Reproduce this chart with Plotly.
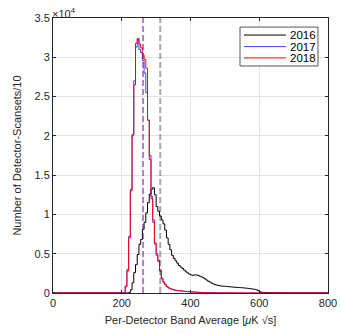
import numpy as np
import plotly.graph_objects as go

# histogram bins (5 uK rt s wide), left edges 200..695
bin_edges = list(range(200, 705, 5))

counts_2016 = [
    0, 0, 0, 0, 50, 400, 1300, 2600, 3600, 4900,
    6200, 6800, 8100, 9000, 10200, 11500, 12600, 13200, 13400, 12500,
    11000, 10400, 9800, 9300, 8800, 8000, 7000, 6200, 5500, 4800,
    4400, 4100, 3800, 3500, 3300, 3100, 2900, 2700, 2550, 2400,
    2300, 2250, 2300, 2300, 2250, 2150, 2050, 1950, 1800, 1650,
    1500, 1380, 1250, 1150, 1050, 1000, 950, 900, 880, 860,
    840, 820, 800, 780, 760, 740, 720, 700, 690, 680,
    660, 640, 620, 590, 560, 530, 500, 460, 400, 300,
    150, 100, 70, 55, 45, 38, 32, 27, 22, 18,
    15, 12, 10, 8, 7, 6, 5, 4, 3, 2,
]
counts_2017 = [
    0, 0, 900, 3000, 7200, 13200, 20200, 27000, 31300, 32400,
    31000, 30600, 29600, 28000, 25500, 22000, 17000, 12300, 9000, 6200,
    4800, 4000, 2800, 1800, 1300, 1000, 780, 640, 540, 450,
    400, 350, 320, 290, 260, 240, 220, 200, 180, 160,
    140, 125, 110, 100, 90, 80, 70, 60, 55, 50,
    45, 40, 35, 32, 30, 28, 25, 22, 20, 18,
    16, 14, 12, 10, 9, 8, 7, 6, 5, 5,
    4, 4, 3, 3, 3, 2, 2, 2, 2, 1,
    1, 1, 1, 1, 1, 0, 0, 0, 0, 0,
    0, 0, 0, 0, 0, 0, 0, 0, 0, 0,
]
counts_2018 = [
    0, 0, 800, 2800, 7000, 13000, 20000, 26500, 31800, 32300,
    31700, 31200, 30300, 29700, 28600, 22000, 17500, 12000, 9300, 6400,
    5000, 4200, 2900, 1900, 1400, 1100, 800, 650, 550, 450,
    400, 350, 320, 290, 260, 240, 220, 200, 180, 160,
    140, 125, 110, 100, 90, 80, 70, 60, 55, 50,
    45, 40, 35, 32, 30, 28, 25, 22, 20, 18,
    16, 14, 12, 10, 9, 8, 7, 6, 5, 5,
    4, 4, 3, 3, 3, 2, 2, 2, 2, 1,
    1, 1, 1, 1, 1, 0, 0, 0, 0, 0,
    0, 0, 0, 0, 0, 0, 0, 0, 0, 0,
]
mean_2016 = 312
mean_2017 = 262
mean_2018 = 262

years = ["2016", "2017", "2018"]
x_ticks = [0, 200, 400, 600, 800]
y_ticks = [0, 5000, 10000, 15000, 20000, 25000, 30000, 35000]
y_ticktext = ["0", "0.5", "1", "1.5", "2", "2.5", "3", "3.5"]

FONT = "Liberation Sans, Arial, sans-serif"
INK = "#262626"
colors = ["#000000", "rgba(0,0,255,0.75)", "#ff0000"]


def step_xy(counts):
    # pad with zero baseline from 0 and out to 800
    x = [0] + bin_edges + [800]
    y = [0] + counts + [0, 0]
    return x, y


fig = go.Figure()
for name, col, c in zip(years, colors, [counts_2016, counts_2017, counts_2018]):
    x, y = step_xy(c)
    fig.add_trace(go.Scatter(x=x, y=y, mode="lines", name=name, showlegend=False,
                             line=dict(color=col, width=1, shape="hv")))

# mean markers (red first so blue on top gives the lavender)
for m, col in [(mean_2016, "rgba(0,0,0,0.35)"), (mean_2018, "rgba(255,0,0,0.3)"), (mean_2017, "rgba(0,0,255,0.3)")]:
    fig.add_trace(go.Scatter(x=[m, m], y=[0, 35000], mode="lines", showlegend=False,
                             line=dict(color=col, width=2, dash="6px,3px")))

fig.update_xaxes(range=[0, 800], tickvals=x_ticks, ticks="inside", ticklen=3, tickcolor=INK,
                 showline=True, linecolor=INK, linewidth=1, mirror="allticks", automargin=False,
                 showgrid=True, gridcolor="#e3e3e3", zeroline=False,
                 tickfont=dict(size=11, color=INK, family=FONT),
                 title=dict(text="Per-Detector Band Average [<i>μ</i>K √s]", font=dict(size=11, color=INK, family=FONT), standoff=8))
fig.update_yaxes(range=[0, 35000], tickvals=y_ticks, ticktext=y_ticktext, ticks="inside", ticklen=3, tickcolor=INK,
                 showline=True, linecolor=INK, linewidth=1, mirror="allticks", automargin=False,
                 showgrid=True, gridcolor="#e3e3e3", zeroline=False,
                 tickfont=dict(size=11, color=INK, family=FONT),
                 title=dict(text="Number of Detector-Scansets/10", font=dict(size=11, color=INK, family=FONT), standoff=10))

fig.add_annotation(text="×10<sup>4</sup>", xref="paper", yref="paper", x=0, y=1, xanchor="left", yanchor="bottom",
                   showarrow=False, font=dict(size=11, color=INK, family=FONT), xshift=-3, yshift=-4)

# compact MATLAB-style legend box
fig.add_shape(type="rect", xref="paper", yref="paper", x0=0.68, x1=0.9636, y0=0.8255, y1=0.967,
              line=dict(color="#555555", width=1), fillcolor="white", layer="above")
row_y = [0.938, 0.896, 0.855]
for name, col, ry in zip(years, colors, row_y):
    fig.add_shape(type="line", xref="paper", yref="paper", x0=0.6945, x1=0.847, y0=ry, y1=ry,
                  line=dict(color=col, width=1), layer="above")
    fig.add_annotation(text=name, xref="paper", yref="paper", x=0.855, y=ry, xanchor="left", yanchor="middle",
                       showarrow=False, font=dict(size=11.5, color="#000000", family=FONT))

fig.update_layout(
    width=341, height=334,
    margin=dict(l=53, r=13, t=18, b=41),
    paper_bgcolor="white", plot_bgcolor="white",
    font=dict(family=FONT, color=INK),
    showlegend=False,
)

fig.write_html("out.html", config={"displayModeBar": False},
               post_script="document.body.style.margin='0';")
